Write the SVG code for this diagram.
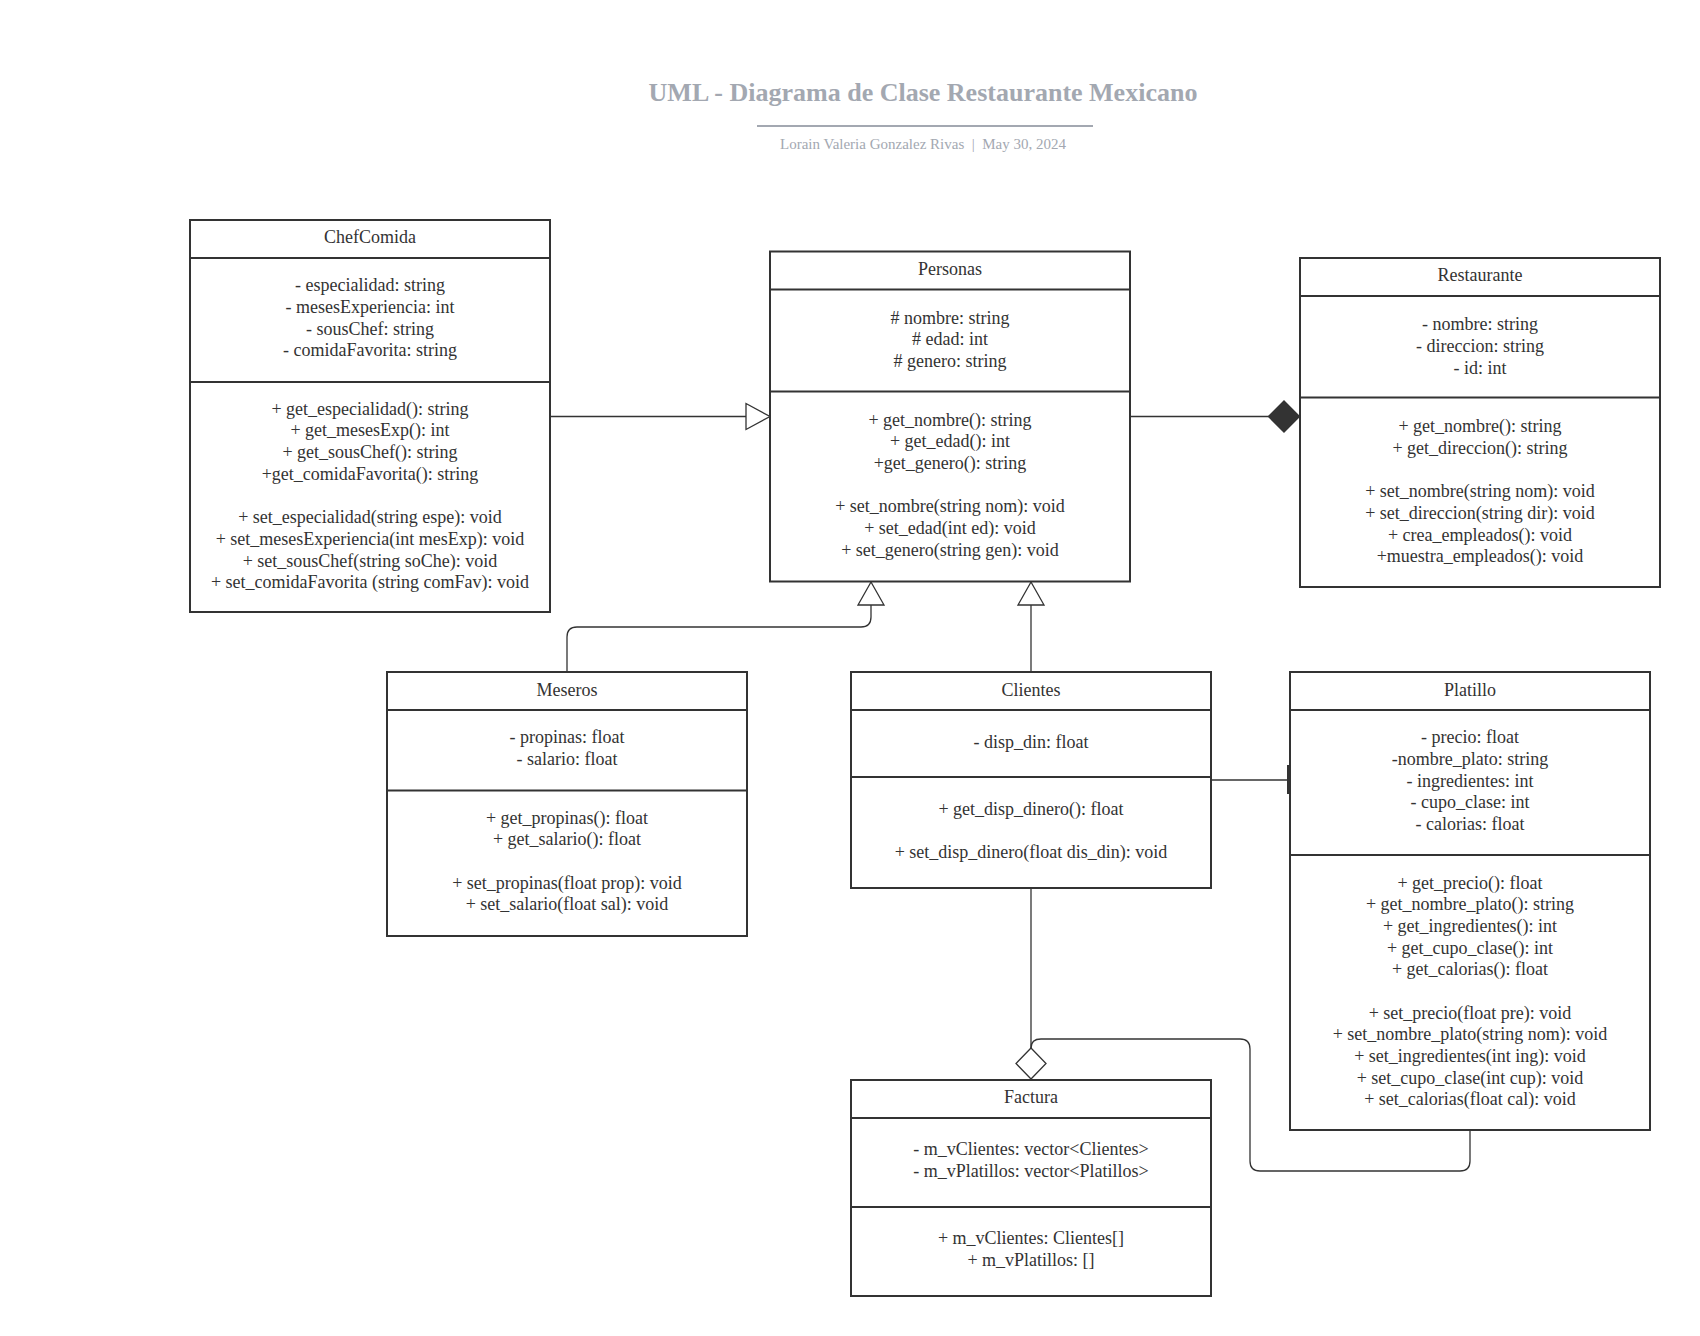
<svg xmlns="http://www.w3.org/2000/svg" width="1700" height="1336" viewBox="0 0 1700 1336">
<style>
.box{fill:#fff;stroke:#333;stroke-width:2}
.div{stroke:#333;stroke-width:2}
text{font-family:"Liberation Serif","Times New Roman",serif;font-size:18px;fill:#333;text-anchor:middle}
.conn{fill:none;stroke:#333;stroke-width:1.3}
.hollow{fill:#fff;stroke:#333;stroke-width:1.3}
.filled{fill:#333;stroke:#333;stroke-width:1.3}
.title{font-size:26px;font-weight:bold;fill:#a3a8b1}
.sub{font-size:15px;fill:#a3a8b1}
</style>
<rect width="1700" height="1336" fill="#fff"/>
<g id="header">
<text class="title" x="923" y="101">UML - Diagrama de Clase Restaurante Mexicano</text>
<line x1="757" y1="126" x2="1093" y2="126" stroke="#a3a8b1" stroke-width="2"/>
<text class="sub" x="923" y="148.5" xml:space="preserve">Lorain Valeria Gonzalez Rivas  |  May 30, 2024</text>
</g>
<g id="connectors">
<path class="conn" d="M550 416.5 H746"/>
<polygon class="hollow" points="746,403.5 770,416.5 746,429.5"/>
<path class="conn" d="M1130 416.5 H1269"/>
<polygon class="filled" points="1268.5,416.5 1284,401 1299.5,416.5 1284,432"/>
<path class="conn" d="M567 672 V637 Q567 627 577 627 H861 Q871 627 871 617 V605"/>
<polygon class="hollow" points="858,605 884,605 871,582"/>
<path class="conn" d="M1031 672 V605"/>
<polygon class="hollow" points="1018,605 1044,605 1031,582"/>
<path class="conn" d="M1211 780 H1288"/>
<rect x="1287" y="765" width="2.5" height="29" fill="#333"/>
<path class="conn" d="M1031 888 V1048"/>
<path class="conn" d="M1470 1130 V1161 Q1470 1171 1460 1171 H1260 Q1250 1171 1250 1161 V1049 Q1250 1039 1240 1039 H1041 Q1031 1039 1031 1048"/>
<polygon class="hollow" points="1031,1048 1046,1063.5 1031,1079 1016,1063.5"/>
</g>
<g id="ChefComida">
<rect class="box" x="190" y="220" width="360" height="392"/>
<line class="div" x1="190" y1="258" x2="550" y2="258"/>
<line class="div" x1="190" y1="382" x2="550" y2="382"/>
<text x="370" y="242.5">ChefComida</text>
<text x="370" y="291.1">- especialidad: string</text>
<text x="370" y="312.8">- mesesExperiencia: int</text>
<text x="370" y="334.5">- sousChef: string</text>
<text x="370" y="356.2">- comidaFavorita: string</text>
<text x="370" y="414.7">+ get_especialidad(): string</text>
<text x="370" y="436.4">+ get_mesesExp(): int</text>
<text x="370" y="458.1">+ get_sousChef(): string</text>
<text x="370" y="479.8">+get_comidaFavorita(): string</text>
<text x="370" y="523.2">+ set_especialidad(string espe): void</text>
<text x="370" y="544.9">+ set_mesesExperiencia(int mesExp): void</text>
<text x="370" y="566.5">+ set_sousChef(string soChe): void</text>
<text x="370" y="588.2">+ set_comidaFavorita (string comFav): void</text>
</g>
<g id="Personas">
<rect class="box" x="770" y="251.5" width="360" height="330"/>
<line class="div" x1="770" y1="289.5" x2="1130" y2="289.5"/>
<line class="div" x1="770" y1="391.5" x2="1130" y2="391.5"/>
<text x="950" y="274.9">Personas</text>
<text x="950" y="323.7"># nombre: string</text>
<text x="950" y="345.4"># edad: int</text>
<text x="950" y="367"># genero: string</text>
<text x="950" y="425.6">+ get_nombre(): string</text>
<text x="950" y="447.3">+ get_edad(): int</text>
<text x="950" y="469">+get_genero(): string</text>
<text x="950" y="512.3">+ set_nombre(string nom): void</text>
<text x="950" y="534">+ set_edad(int ed): void</text>
<text x="950" y="555.7">+ set_genero(string gen): void</text>
</g>
<g id="Restaurante">
<rect class="box" x="1300" y="258" width="360" height="329"/>
<line class="div" x1="1300" y1="296" x2="1660" y2="296"/>
<line class="div" x1="1300" y1="397.5" x2="1660" y2="397.5"/>
<text x="1480" y="281.4">Restaurante</text>
<text x="1480" y="330.2">- nombre: string</text>
<text x="1480" y="351.9">- direccion: string</text>
<text x="1480" y="373.5">- id: int</text>
<text x="1480" y="432.1">+ get_nombre(): string</text>
<text x="1480" y="453.8">+ get_direccion(): string</text>
<text x="1480" y="497.1">+ set_nombre(string nom): void</text>
<text x="1480" y="518.8">+ set_direccion(string dir): void</text>
<text x="1480" y="540.5">+ crea_empleados(): void</text>
<text x="1480" y="562.2">+muestra_empleados(): void</text>
</g>
<g id="Meseros">
<rect class="box" x="387" y="672" width="360" height="264"/>
<line class="div" x1="387" y1="710" x2="747" y2="710"/>
<line class="div" x1="387" y1="790.5" x2="747" y2="790.5"/>
<text x="567" y="695.6">Meseros</text>
<text x="567" y="743.3">- propinas: float</text>
<text x="567" y="764.9">- salario: float</text>
<text x="567" y="823.5">+ get_propinas(): float</text>
<text x="567" y="845.2">+ get_salario(): float</text>
<text x="567" y="888.5">+ set_propinas(float prop): void</text>
<text x="567" y="910.2">+ set_salario(float sal): void</text>
</g>
<g id="Clientes">
<rect class="box" x="851" y="672" width="360" height="216"/>
<line class="div" x1="851" y1="710" x2="1211" y2="710"/>
<line class="div" x1="851" y1="777" x2="1211" y2="777"/>
<text x="1031" y="695.6">Clientes</text>
<text x="1031" y="747.6">- disp_din: float</text>
<text x="1031" y="814.8">+ get_disp_dinero(): float</text>
<text x="1031" y="858.2">+ set_disp_dinero(float dis_din): void</text>
</g>
<g id="Platillo">
<rect class="box" x="1290" y="672" width="360" height="458"/>
<line class="div" x1="1290" y1="710" x2="1650" y2="710"/>
<line class="div" x1="1290" y1="855" x2="1650" y2="855"/>
<text x="1470" y="695.6">Platillo</text>
<text x="1470" y="743.3">- precio: float</text>
<text x="1470" y="764.9">-nombre_plato: string</text>
<text x="1470" y="786.6">- ingredientes: int</text>
<text x="1470" y="808.3">- cupo_clase: int</text>
<text x="1470" y="830">- calorias: float</text>
<text x="1470" y="888.5">+ get_precio(): float</text>
<text x="1470" y="910.2">+ get_nombre_plato(): string</text>
<text x="1470" y="931.9">+ get_ingredientes(): int</text>
<text x="1470" y="953.6">+ get_cupo_clase(): int</text>
<text x="1470" y="975.3">+ get_calorias(): float</text>
<text x="1470" y="1018.6">+ set_precio(float pre): void</text>
<text x="1470" y="1040.3">+ set_nombre_plato(string nom): void</text>
<text x="1470" y="1062">+ set_ingredientes(int ing): void</text>
<text x="1470" y="1083.7">+ set_cupo_clase(int cup): void</text>
<text x="1470" y="1105.4">+ set_calorias(float cal): void</text>
</g>
<g id="Factura">
<rect class="box" x="851" y="1080" width="360" height="216"/>
<line class="div" x1="851" y1="1118" x2="1211" y2="1118"/>
<line class="div" x1="851" y1="1207" x2="1211" y2="1207"/>
<text x="1031" y="1103.2">Factura</text>
<text x="1031" y="1155.3">- m_vClientes: vector&lt;Clientes&gt;</text>
<text x="1031" y="1177">- m_vPlatillos: vector&lt;Platillos&gt;</text>
<text x="1031" y="1244.1">+ m_vClientes: Clientes[]</text>
<text x="1031" y="1265.9">+ m_vPlatillos: []</text>
</g>
</svg>
